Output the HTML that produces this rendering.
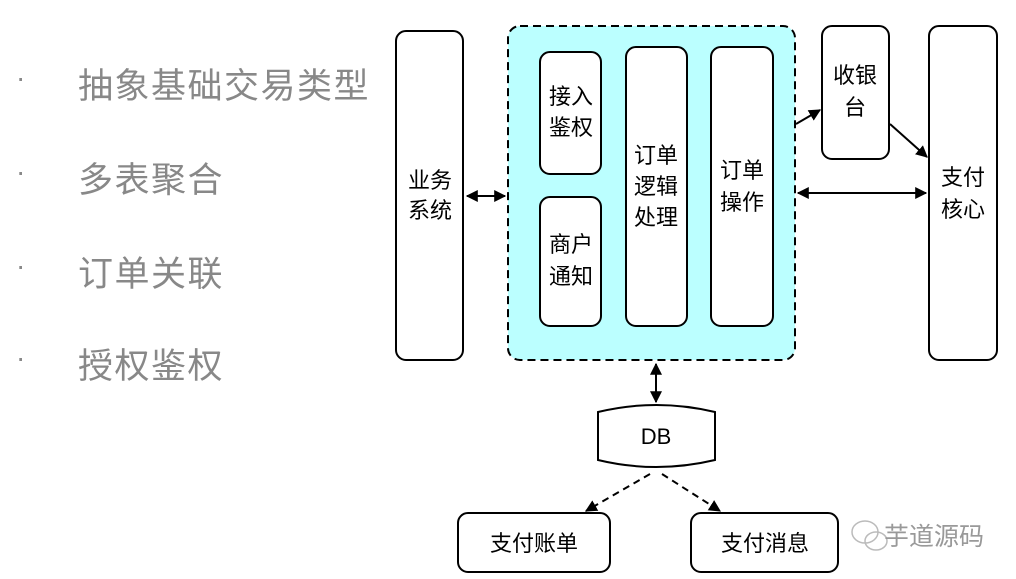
<!DOCTYPE html>
<html><head><meta charset="utf-8"><style>
body{margin:0;width:1016px;height:579px;background:#fff;overflow:hidden;font-family:"Liberation Sans","Noto Sans CJK SC",sans-serif}
.b{position:absolute;color:#888;font-size:28px}
.t{position:absolute;left:78px;color:#888;font-size:35px;letter-spacing:1.5px}
</style></head><body>
<div class="b" style="left:16px;top:62px">·</div><div class="t" style="top:58px">抽象基础交易类型</div>
<div class="b" style="left:16px;top:156px">·</div><div class="t" style="top:152px">多表聚合</div>
<div class="b" style="left:16px;top:250px">·</div><div class="t" style="top:246px">订单关联</div>
<div class="b" style="left:16px;top:342px">·</div><div class="t" style="top:338px">授权鉴权</div>
<svg width="1016" height="579" style="position:absolute;left:0;top:0" font-family="Liberation Sans, Noto Sans CJK SC, sans-serif" font-size="22" text-anchor="middle">
<defs><marker id="a" viewBox="0 0 10 10" refX="9" refY="5" markerWidth="6" markerHeight="6" orient="auto-start-reverse"><path d="M0,0L10,5L0,10z" fill="#000"/></marker></defs>
<g fill="#fff" stroke="#000" stroke-width="2">
<rect x="396" y="31" width="67" height="329" rx="10"/>
<rect x="508" y="26" width="287" height="334" rx="12" fill="#bff" stroke-dasharray="8,5"/>
<rect x="540" y="52" width="61" height="122" rx="10"/>
<rect x="540" y="197" width="61" height="129" rx="10"/>
<rect x="626" y="47" width="61" height="279" rx="10"/>
<rect x="711" y="47" width="62" height="279" rx="10"/>
<rect x="822" y="26" width="67" height="133" rx="10"/>
<rect x="929" y="26" width="68" height="334" rx="10"/>
<rect x="458" y="513" width="152" height="59" rx="10"/>
<rect x="691" y="513" width="147" height="59" rx="10"/>
<path d="M598,412 Q656,398 715,412 V460 Q656,474 598,460 Z"/>
</g>
<g stroke="#000" stroke-width="2" fill="none" marker-end="url(#a)" marker-start="url(#a)">
<line x1="467" y1="196" x2="505" y2="196"/>
<line x1="798" y1="193" x2="926" y2="193"/>
<line x1="656" y1="364" x2="656" y2="402"/>
</g>
<g stroke="#000" stroke-width="2" fill="none" marker-end="url(#a)">
<line x1="796" y1="124" x2="820" y2="110"/>
<line x1="890" y1="124" x2="927" y2="157"/>
<line x1="650" y1="474" x2="586" y2="511" stroke-dasharray="7,5"/>
<line x1="662" y1="474" x2="720" y2="511" stroke-dasharray="7,5"/>
</g>
<g fill="#000">
<text x="430" y="188">业务</text><text x="430" y="218">系统</text>
<text x="571" y="104">接入</text><text x="571" y="135">鉴权</text>
<text x="571" y="252">商户</text><text x="571" y="284">通知</text>
<text x="656" y="163">订单</text><text x="656" y="194">逻辑</text><text x="656" y="225">处理</text>
<text x="742" y="178">订单</text><text x="742" y="210">操作</text>
<text x="855" y="83">收银</text><text x="855" y="115">台</text>
<text x="963" y="185">支付</text><text x="963" y="217">核心</text>
<text x="656" y="444">DB</text>
<text x="534" y="551">支付账单</text>
<text x="765" y="551">支付消息</text>
</g>
<g fill="none" stroke="#bbb" stroke-width="1.5"><ellipse cx="865" cy="532" rx="13" ry="11"/><ellipse cx="876" cy="541" rx="11" ry="9"/></g>
<text x="934" y="545" fill="#999" font-size="25">芋道源码</text>
</svg>
</body></html>
